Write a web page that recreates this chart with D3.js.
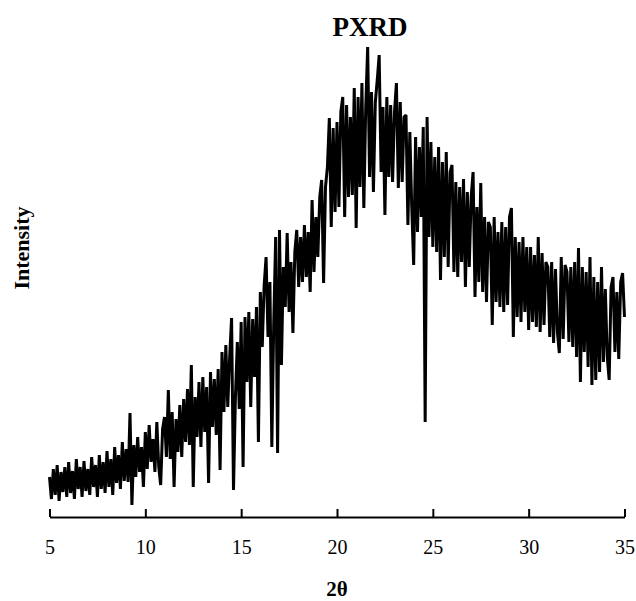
<!DOCTYPE html>
<html lang="en">
  <head>
    <meta charset="UTF-8" />
    <title>PXRD</title>
    <style type="text/css">
      body {
        margin: 0;
        background: #ffffff;
        font-family: "Liberation Serif", "Times New Roman", serif;
      }

      svg {
        display: block;
      }

      .axis text {
        font-family: "Liberation Serif", "Times New Roman", serif;
        font-size: 20px;
        fill: #000000;
      }

      .label {
        font-weight: bold;
        fill: #000000;
      }
    </style>
  </head>
  <body>
    <script src="https://d3js.org/d3.v7.min.js"></script>
    <script>
      // 2theta runs 5..35 in steps of 0.1, one row per degree
      var start = 5;
      var step = 0.1;
      var intensity = [
        40, 18, 48, 22, 52, 16, 45, 25, 50, 20,
        55, 24, 46, 18, 58, 28, 50, 20, 56, 26,
        48, 22, 60, 30, 52, 20, 62, 28, 55, 24,
        66, 30, 58, 22, 70, 34, 62, 28, 75, 36,
        68, 35, 104, 12, 72, 40, 80, 45, 70, 30,
        85, 48, 92, 55, 78, 45, 95, 50, 32, 88,
        100, 60, 127, 58, 105, 30, 98, 65, 112, 60,
        118, 75, 128, 72, 152, 30, 120, 80, 135, 70,
        140, 85, 130, 34, 145, 90, 138, 82, 148, 47,
        165, 105, 172, 110, 160, 199, 27, 120, 175, 108,
        195, 50, 200, 135, 205, 110, 198, 140, 210, 75,
        225, 170, 232, 260, 180, 235, 70, 195, 280, 64,
        287, 152, 250, 210, 284, 205, 255, 184, 265, 287,
        230, 280, 235, 292, 240, 285, 225, 317, 245, 300,
        260, 320, 337, 234, 330, 350, 399, 290, 389, 305,
        395, 310, 405, 420, 300, 412, 320, 400, 322, 429,
        289, 420, 330, 434, 309, 410, 470, 340, 425, 325,
        415, 437, 462, 345, 410, 302, 420, 340, 412, 335,
        405, 434, 329, 415, 335, 400, 402, 292, 385, 310,
        252, 380, 285, 370, 300, 390, 95, 400, 280, 375,
        270, 360, 265, 370, 237, 355, 260, 365, 250, 345,
        352, 245, 335, 240, 330, 255, 338, 230, 325, 250,
        320, 345, 220, 310, 235, 334, 225, 300, 215, 295,
        290, 192, 300, 215, 285, 210, 295, 205, 290, 212,
        300, 309, 180, 280, 200, 275, 195, 280, 205, 270,
        187, 270, 195, 262, 190, 280, 185, 264, 192, 255,
        250, 180, 255, 174, 248, 185, 164, 260, 178, 252,
        245, 175, 250, 170, 255, 160, 269, 135, 250, 165,
        245, 150, 260, 132, 240, 137, 235, 145, 250, 155,
        228, 160, 137, 230, 240, 165, 225, 158, 235, 244,
        200
      ];
      var xTicks = [5, 10, 15, 20, 25, 30, 35];

      var data = intensity.map((v, i) => ({ t: start + i * step, v: v }));

      var width = 636;
      var height = 601;

      var svg = d3
        .select("body")
        .append("svg")
        .attr("width", width)
        .attr("height", height);

      var x = d3.scaleLinear().domain([5, 35]).range([49.5, 624.5]);
      var y = d3.scaleLinear().domain([0, 472]).range([517, 45]);

      var line = d3
        .line()
        .x((d) => x(d.t))
        .y((d) => y(d.v));

      svg
        .append("path")
        .datum(data)
        .attr("fill", "none")
        .attr("stroke", "#000000")
        .attr("stroke-width", 3)
        .attr("stroke-linejoin", "bevel")
        .attr("d", line);

      var xAxis = svg
        .append("g")
        .attr("class", "axis")
        .attr("transform", "translate(0,517)")
        .call(
          d3
            .axisBottom(x)
            .tickValues(xTicks)
            .tickSizeInner(-8)
            .tickSizeOuter(0)
            .tickPadding(23)
            .tickFormat(d3.format("d"))
        );
      xAxis.select(".domain").attr("stroke", "#000000").attr("stroke-width", 2);
      xAxis.selectAll(".tick line").attr("stroke", "#000000").attr("stroke-width", 2);

      svg
        .append("text")
        .attr("class", "label")
        .attr("x", 370)
        .attr("y", 36)
        .attr("text-anchor", "middle")
        .style("font-size", "27px")
        .text("PXRD");

      svg
        .append("text")
        .attr("class", "label")
        .attr("x", 337)
        .attr("y", 596)
        .attr("text-anchor", "middle")
        .style("font-size", "21px")
        .text("2θ");

      svg
        .append("text")
        .attr("class", "label")
        .attr("transform", "translate(29,248) rotate(-90)")
        .attr("text-anchor", "middle")
        .style("font-size", "22px")
        .text("Intensity");

      // panel letter, mostly cut off at the top edge as in the source
      svg
        .append("text")
        .attr("class", "label")
        .attr("x", 12)
        .attr("y", -6)
        .style("font-size", "27px")
        .text("(b)");
    </script>
  </body>
</html>
